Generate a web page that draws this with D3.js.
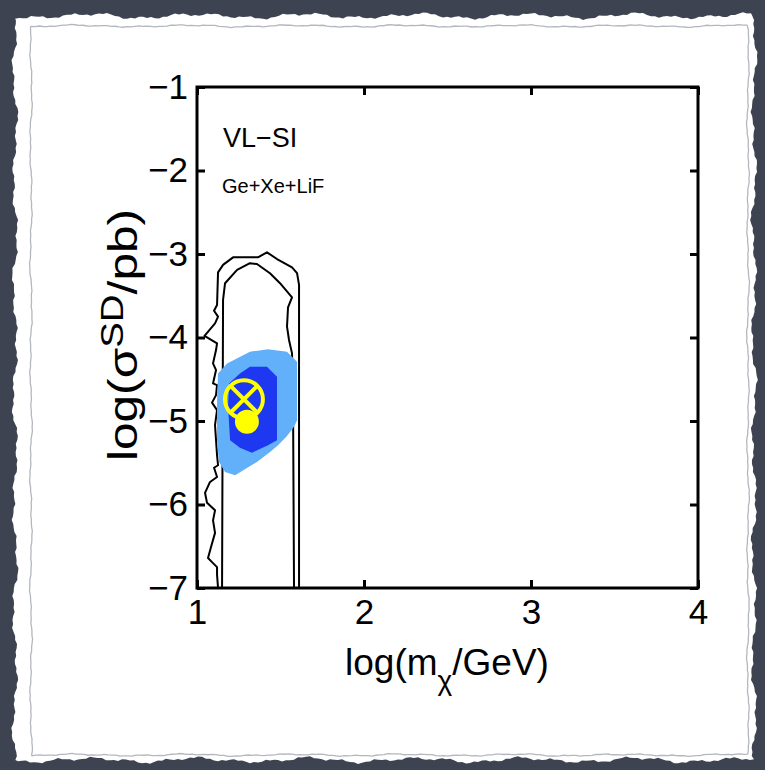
<!DOCTYPE html>
<html>
<head>
<meta charset="utf-8">
<script src="https://cdn.jsdelivr.net/npm/d3@7"></script>
<style>
  html, body { margin: 0; padding: 0; background: #3d4350; }
  svg { display: block; }
</style>
</head>
<body>
<div id="chart"></div>
<script>
// axis ticks
const xTicks = [1, 2, 3, 4]
const yTicks = [-1, -2, -3, -4, -5, -6, -7]

// contour lines, [log m, log sigma]
const outerContour = [
  [1.126, -7.0], [1.120, -6.84], [1.120, -6.75], [1.090, -6.69], [1.066, -6.64],
  [1.084, -6.51], [1.108, -6.34], [1.096, -6.19], [1.108, -6.07], [1.060, -5.98],
  [1.048, -5.86], [1.078, -5.73], [1.120, -5.67], [1.102, -5.56], [1.126, -5.53],
  [1.120, -5.41], [1.114, -5.23], [1.108, -5.05], [1.120, -4.87], [1.090, -4.78],
  [1.114, -4.69], [1.120, -4.57], [1.096, -4.55], [1.114, -4.39], [1.096, -4.31],
  [1.114, -4.15], [1.120, -4.07], [1.045, -3.98], [1.108, -3.83], [1.126, -3.75],
  [1.102, -3.68], [1.120, -3.61], [1.126, -3.22], [1.156, -3.13], [1.216, -3.04],
  [1.365, -3.04], [1.419, -2.98], [1.479, -3.06], [1.569, -3.16], [1.599, -3.23],
  [1.611, -3.37], [1.611, -7.0]
]
const innerContour = [
  [1.150, -7.0], [1.156, -3.55], [1.168, -3.35], [1.240, -3.19], [1.317, -3.11],
  [1.359, -3.12], [1.437, -3.23], [1.497, -3.35], [1.569, -3.52], [1.545, -3.64],
  [1.539, -3.87], [1.551, -4.03], [1.569, -4.19], [1.575, -4.75], [1.581, -7.0]
]

// filled credible regions
const region95 = [
  [1.126, -4.43], [1.180, -4.31], [1.317, -4.17], [1.425, -4.14], [1.539, -4.17],
  [1.599, -4.29], [1.599, -4.99], [1.581, -5.07], [1.539, -5.18], [1.485, -5.29],
  [1.437, -5.37], [1.359, -5.49], [1.228, -5.65], [1.168, -5.61], [1.132, -5.49],
  [1.120, -5.23], [1.120, -4.75]
]
const region68 = [
  [1.257, -4.43], [1.317, -4.35], [1.419, -4.35], [1.479, -4.47], [1.479, -4.84],
  [1.479, -5.23], [1.425, -5.29], [1.329, -5.38], [1.257, -5.32], [1.198, -5.23],
  [1.186, -4.83], [1.192, -4.55]
]

// best fit (circle with cross) and true value (dot)
const bestFit = [1.281, -4.74]
const trueValue = [1.299, -5.01]

const W = 765, H = 770
const plot = { left: 197, right: 698, top: 87, bottom: 588 }
const font = "'Liberation Sans', Arial, Helvetica, sans-serif"

const svg = d3.select("#chart").append("svg")
    .attr("width", W)
    .attr("height", H)

svg.append("rect")
    .attr("width", W)
    .attr("height", H)
    .attr("fill", "#3d4350")

// torn paper edge
function tornRect(l, t, r, b, amp, ph) {
    const pts = []
    const step = 4
    let k = 0
    const wob = i => amp * (0.55 * Math.sin(i * 0.23 + ph) + 0.35 * Math.sin(i * 0.71 + ph * 2)
        + 0.2 * Math.sin(i * 2.3 + ph * 3) + 0.12 * Math.sin(i * 5.9 + ph))
    for (let x = l; x < r; x += step) pts.push([x, t + wob(k++)])
    for (let y = t; y < b; y += step) pts.push([r + wob(k++), y])
    for (let x = r; x > l; x -= step) pts.push([x, b + wob(k++)])
    for (let y = b; y > t; y -= step) pts.push([l + wob(k++), y])
    return pts
}

svg.append("path")
    .attr("d", d3.line()(tornRect(15, 16, 754, 760, 3.5, 0.5)) + "Z")
    .attr("fill", "#ffffff")

svg.append("path")
    .attr("d", d3.line()(tornRect(31, 26, 748, 755, 1.4, 2)) + "Z")
    .attr("fill", "none")
    .attr("stroke", "#b3b7be")
    .attr("stroke-width", 1.3)

const x = d3.scaleLinear().domain([1, 4]).range([plot.left, plot.right])
const y = d3.scaleLinear().domain([-7, -1]).range([plot.bottom, plot.top])

svg.append("clipPath").attr("id", "clip")
    .append("rect")
    .attr("x", plot.left).attr("y", plot.top)
    .attr("width", plot.right - plot.left)
    .attr("height", plot.bottom - plot.top)

const g = svg.append("g").attr("clip-path", "url(#clip)")
const line = d3.line().x(d => x(d[0])).y(d => y(d[1]))

// contours first, filled regions go over them
;[outerContour, innerContour].forEach(c => {
    g.append("path")
        .attr("d", line(c))
        .attr("fill", "none")
        .attr("stroke", "#000000")
        .attr("stroke-width", 2)
        .attr("stroke-linejoin", "round")
})

g.append("path")
    .attr("d", line(region95) + "Z")
    .attr("fill", "#63b0fa")
g.append("path")
    .attr("d", line(region68) + "Z")
    .attr("fill", "#1e38f2")

// markers
const yellow = "#ffff00"
const ringR = 19
g.append("circle")
    .attr("cx", x(trueValue[0]))
    .attr("cy", y(trueValue[1]))
    .attr("r", 12)
    .attr("fill", yellow)
g.append("circle")
    .attr("cx", x(bestFit[0]))
    .attr("cy", y(bestFit[1]))
    .attr("r", ringR)
    .attr("fill", "none")
    .attr("stroke", yellow)
    .attr("stroke-width", 4)
const d = ringR * Math.SQRT1_2
;[[-1, -1, 1, 1], [-1, 1, 1, -1]].forEach(s => {
    g.append("line")
        .attr("x1", x(bestFit[0]) + s[0] * d).attr("y1", y(bestFit[1]) + s[1] * d)
        .attr("x2", x(bestFit[0]) + s[2] * d).attr("y2", y(bestFit[1]) + s[3] * d)
        .attr("stroke", yellow)
        .attr("stroke-width", 4)
})

// axes, ticks pointing inwards on all four sides
const tickLen = 8
function styleAxis(sel, showLabels) {
    sel.select(".domain").remove()
    sel.selectAll(".tick line").attr("stroke", "#000").attr("stroke-width", 3)
    sel.selectAll(".tick text")
        .attr("fill", "#000")
        .style("font-family", font)
        .style("font-size", "35px")
    if (!showLabels) sel.selectAll(".tick text").remove()
}

svg.append("g")
    .attr("transform", `translate(0,${plot.bottom})`)
    .call(d3.axisBottom(x).tickValues(xTicks).tickFormat(d3.format("d"))
        .tickSize(-tickLen).tickSizeOuter(0).tickPadding(11))
    .call(s => styleAxis(s, true))
svg.append("g")
    .attr("transform", `translate(0,${plot.top})`)
    .call(d3.axisTop(x).tickValues(xTicks).tickSize(-tickLen).tickSizeOuter(0))
    .call(s => styleAxis(s, false))
svg.append("g")
    .attr("transform", `translate(${plot.left},0)`)
    .call(d3.axisLeft(y).tickValues(yTicks).tickFormat(d3.format("d"))
        .tickSize(-tickLen).tickSizeOuter(0).tickPadding(9))
    .call(s => styleAxis(s, true))
svg.append("g")
    .attr("transform", `translate(${plot.right},0)`)
    .call(d3.axisRight(y).tickValues(yTicks).tickSize(-tickLen).tickSizeOuter(0))
    .call(s => styleAxis(s, false))

svg.append("rect")
    .attr("x", plot.left).attr("y", plot.top)
    .attr("width", plot.right - plot.left)
    .attr("height", plot.bottom - plot.top)
    .attr("fill", "none")
    .attr("stroke", "#000")
    .attr("stroke-width", 3)

// labels
const xLabel = svg.append("text")
    .attr("x", 447).attr("y", 675)
    .attr("text-anchor", "middle")
    .style("font-family", font)
    .style("font-size", "37px")
xLabel.append("tspan").text("log(m")
xLabel.append("tspan").attr("dy", 15).style("font-size", "28px").text("χ")
xLabel.append("tspan").attr("dy", -15).text("/GeV)")

// stretched along its reading direction, as in the original figure
const yLabel = svg.append("text")
    .attr("transform", "translate(137,335) rotate(-90) scale(1.24,1)")
    .attr("text-anchor", "middle")
    .style("font-family", font)
    .style("font-size", "40px")
yLabel.append("tspan").text("log(σ")
yLabel.append("tspan").attr("dy", -14).style("font-size", "31px").text("SD")
yLabel.append("tspan").attr("dy", 14).text("/pb)")

svg.append("text")
    .attr("x", 223).attr("y", 147)
    .style("font-family", font)
    .style("font-size", "27px")
    .text("VL−SI")
svg.append("text")
    .attr("x", 222).attr("y", 193)
    .style("font-family", font)
    .style("font-size", "20px")
    .text("Ge+Xe+LiF")
</script>
</body>
</html>
